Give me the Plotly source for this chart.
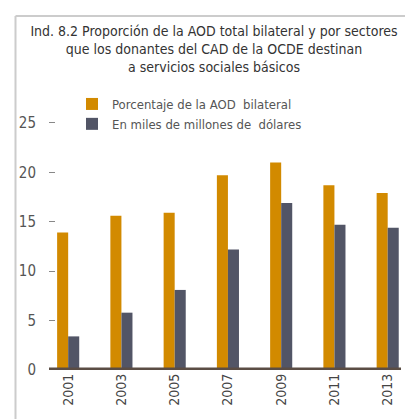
import plotly.graph_objects as go

# Data
years = ["2001", "2003", "2005", "2007", "2009", "2011", "2013"]
pct_bilateral = [13.9, 15.6, 15.9, 19.7, 21.0, 18.7, 17.9]
usd_billions = [3.4, 5.8, 8.1, 12.2, 16.9, 14.7, 14.4]

y_ticks = [0, 5, 10, 15, 20, 25]

W, H = 413, 419
FONT = "DejaVu Sans Condensed, DejaVu Sans, sans-serif"

fig = go.Figure()

fig.add_trace(
    go.Bar(x=years, y=pct_bilateral, name="Porcentaje de la AOD  bilateral",
           marker=dict(color="#D28A00", line=dict(width=0)))
)
fig.add_trace(
    go.Bar(x=years, y=usd_billions, name="En miles de millones de  dólares",
           marker=dict(color="#525566", line=dict(width=0)))
)

# thick baseline under the bars
fig.add_shape(type="line", xref="x", yref="y", x0=-0.36, x1=6.25, y0=0, y1=0,
              line=dict(color="#5B4D44", width=5), layer="above")

# grey frame on the left and top
fig.add_shape(type="line", xref="paper", yref="paper",
              x0=7.5 / W, x1=7.5 / W, y0=0, y1=(H - 8) / H,
              line=dict(color="#CCCCCC", width=2))
fig.add_shape(type="line", xref="paper", yref="paper",
              x0=7.5 / W, x1=1, y0=(H - 8) / H, y1=(H - 8) / H,
              line=dict(color="#CCCCCC", width=2))

fig.update_layout(
    width=W, height=H,
    margin=dict(l=0, r=0, t=0, b=0),
    paper_bgcolor="white", plot_bgcolor="white",
    font=dict(family=FONT, color="#555555", size=13),
    title=dict(
        text="Ind. 8.2 Proporción de la AOD total bilateral y por sectores<br>"
             "que los donantes del CAD de la OCDE destinan<br>"
             "a servicios sociales básicos",
        x=206 / W, xanchor="center", y=(H - 28) / H, yanchor="top",
        font=dict(family=FONT, size=14, color="#333333"),
    ),
    barmode="group", bargap=0.585, bargroupgap=0,
    showlegend=True,
    legend=dict(x=64 / W, y=(H - 81) / H, xanchor="left", yanchor="top",
                bgcolor="rgba(0,0,0,0)", tracegroupgap=0,
                font=dict(family=FONT, size=13, color="#555555")),
    xaxis=dict(
        domain=[41 / W, 393 / W], range=[-0.36, 6.25], type="category",
        automargin=False,
        showgrid=False, zeroline=False, showline=False, ticks="",
        tickangle=-90, tickfont=dict(family=FONT, size=14, color="#444444"),
    ),
    yaxis=dict(
        domain=[(H - 362) / H, (H - 105) / H], range=[0, 26],
        automargin=False,
        tickvals=y_ticks, showgrid=False, zeroline=False, showline=False,
        ticks="inside", ticklen=6, tickcolor="#888888", tickwidth=1,
        ticklabelstandoff=12,
        tickfont=dict(family=FONT, size=15, color="#555555"),
    ),
)

fig.write_html("out.html")
